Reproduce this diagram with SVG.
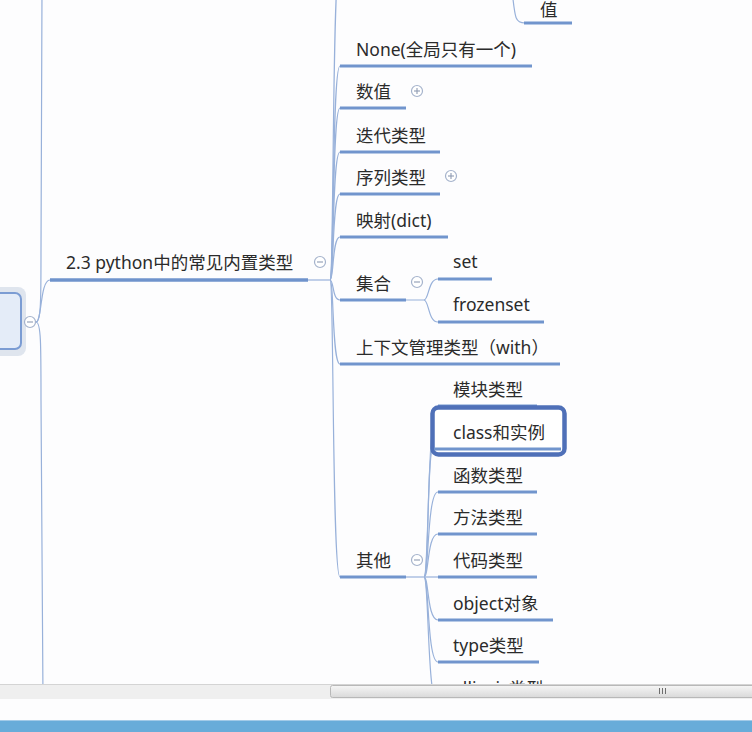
<svg xmlns="http://www.w3.org/2000/svg" width="752" height="732" viewBox="0 0 752 732">
<defs>
<style>
text{font-family:"Noto Sans","Noto Sans CJK SC",sans-serif;font-size:17.5px;fill:#2b2b2b}
.ul{stroke:#7195cd;stroke-width:3;stroke-linecap:butt;fill:none}
.ul2{stroke:#6f93cc;stroke-width:3.5;fill:none}
.cn{stroke:#98b1da;stroke-width:1.2;fill:none}
.tg circle{fill:#fff;stroke:#a5b3cc;stroke-width:1.2}
.tg line{stroke:#8e9bb3;stroke-width:1.1}
</style>
<linearGradient id="thumb" x1="0" y1="0" x2="0" y2="1">
<stop offset="0" stop-color="#f6f6f6"/>
<stop offset="1" stop-color="#d9d9d9"/>
</linearGradient>
</defs>
<rect x="0" y="0" width="752" height="732" fill="#fdfdfe"/>

<g id="connectors">
<path class="cn" d="M36,322 C41,322 41,300 41,250 L42,-10"/>
<path class="cn" d="M36,322 C41,322 41,344 41,400 L43,700"/>
<path class="cn" d="M36,322 C42,322 40,280 50,280"/>
<path class="cn" d="M308,280 L330,280"/>
<path class="cn" d="M330,280 C334,280 332,-40 340,-40"/>
<path class="cn" d="M330,280 C334,280 332,66 340,66"/>
<path class="cn" d="M330,280 C334,280 332,108 340,108"/>
<path class="cn" d="M330,280 C334,280 332,152 340,152"/>
<path class="cn" d="M330,280 C334,280 332,194 340,194"/>
<path class="cn" d="M330,280 C334,280 332,237 340,237"/>
<path class="cn" d="M330,280 C334,280 332,300 340,300"/>
<path class="cn" d="M330,280 C334,280 332,364 340,364"/>
<path class="cn" d="M330,280 C334,280 332,577 340,577"/>
<path class="cn" d="M406,300 L424,300 C429,300 428,279 438,279"/>
<path class="cn" d="M424,300 C429,300 428,322 438,322"/>
<path class="cn" d="M406,577 L438,577"/>
<path class="cn" d="M424,577 C429,577 427,406 438,406"/>
<path class="cn" d="M424,577 C429,577 427,449 433,449"/>
<path class="cn" d="M424,577 C429,577 427,492 438,492"/>
<path class="cn" d="M424,577 C429,577 427,534 438,534"/>
<path class="cn" d="M424,577 C429,577 427,620 438,620"/>
<path class="cn" d="M424,577 C429,577 427,662 438,662"/>
<path class="cn" d="M424,577 C429,577 427,705 438,705"/>
<path class="cn" d="M512,-10 C515,18 515,23 525,23"/>
</g>

<g id="root">
<rect x="-40" y="287" width="66" height="69" rx="8" fill="#dfe5ee"/>
<rect x="-30" y="293" width="51" height="56" rx="6" fill="#e4ecf8" stroke="#7b9cd3" stroke-width="2"/>
<g class="tg"><circle cx="30" cy="322" r="5.5"/><line x1="27" y1="322" x2="33" y2="322"/></g>
</g>

<g id="n-builtin">
<text x="66" y="269">2.3 python中的常见内置类型</text>
<line class="ul2" x1="50" y1="280" x2="308" y2="280"/>
<g class="tg"><circle cx="320" cy="262" r="5.5"/><line x1="317" y1="262" x2="323" y2="262"/></g>
</g>

<g id="n-value">
<text x="540" y="16">值</text>
<line class="ul" x1="524" y1="23" x2="572" y2="23"/>
</g>

<g id="n-none">
<text x="356" y="56">None(全局只有一个)</text>
<line class="ul" x1="340" y1="66" x2="532" y2="66"/>
</g>

<g id="n-number">
<text x="356" y="98">数值</text>
<line class="ul" x1="340" y1="108" x2="406" y2="108"/>
<g class="tg"><circle cx="417" cy="91" r="5.5"/><line x1="414" y1="91" x2="420" y2="91"/><line x1="417" y1="88" x2="417" y2="94"/></g>
</g>

<g id="n-iter">
<text x="356" y="142">迭代类型</text>
<line class="ul" x1="340" y1="152" x2="440" y2="152"/>
</g>

<g id="n-seq">
<text x="356" y="184">序列类型</text>
<line class="ul" x1="340" y1="194" x2="440" y2="194"/>
<g class="tg"><circle cx="451" cy="176" r="5.5"/><line x1="448" y1="176" x2="454" y2="176"/><line x1="451" y1="173" x2="451" y2="179"/></g>
</g>

<g id="n-map">
<text x="356" y="227">映射(dict)</text>
<line class="ul" x1="340" y1="237" x2="448" y2="237"/>
</g>

<g id="n-set-group">
<text x="356" y="290">集合</text>
<line class="ul" x1="340" y1="300" x2="406" y2="300"/>
<g class="tg"><circle cx="417" cy="282" r="5.5"/><line x1="414" y1="282" x2="420" y2="282"/></g>
</g>

<g id="n-set">
<text x="453" y="268">set</text>
<line class="ul" x1="438" y1="279" x2="492" y2="279"/>
</g>

<g id="n-frozenset">
<text x="453" y="311">frozenset</text>
<line class="ul" x1="438" y1="322" x2="544" y2="322"/>
</g>

<g id="n-with">
<text x="356" y="354">上下文管理类型（with）</text>
<line class="ul" x1="340" y1="364" x2="560" y2="364"/>
</g>

<g id="n-other">
<text x="356" y="567">其他</text>
<line class="ul" x1="340" y1="577" x2="406" y2="577"/>
<g class="tg"><circle cx="417" cy="560" r="5.5"/><line x1="414" y1="560" x2="420" y2="560"/></g>
</g>

<g id="n-module">
<text x="453" y="396">模块类型</text>
<line class="ul" x1="438" y1="406" x2="537" y2="406"/>
</g>

<g id="n-class">
<rect x="432.5" y="407.5" width="132" height="47" rx="6" fill="#fff" stroke="#4f70b8" stroke-width="4.5"/>
<text x="453" y="439">class和实例</text>
<line class="ul" x1="434" y1="449" x2="561" y2="449"/>
</g>

<g id="n-func">
<text x="453" y="482">函数类型</text>
<line class="ul" x1="438" y1="492" x2="537" y2="492"/>
</g>

<g id="n-method">
<text x="453" y="524">方法类型</text>
<line class="ul" x1="438" y1="534" x2="537" y2="534"/>
</g>

<g id="n-code">
<text x="453" y="567">代码类型</text>
<line class="ul" x1="438" y1="577" x2="537" y2="577"/>
</g>

<g id="n-object">
<text x="453" y="610">object对象</text>
<line class="ul" x1="438" y1="620" x2="553" y2="620"/>
</g>

<g id="n-type">
<text x="453" y="652">type类型</text>
<line class="ul" x1="438" y1="662" x2="539" y2="662"/>
</g>

<g id="n-ellipsis">
<text x="453" y="695">ellipsis类型</text>
<line class="ul" x1="438" y1="705" x2="545" y2="705"/>
</g>

<g id="scrollbar">
<rect x="0" y="684" width="752" height="15" fill="#efefef"/>
<line x1="0" y1="684.5" x2="752" y2="684.5" stroke="#d4d4d4"/>
<rect x="330.5" y="685.5" width="430" height="12" rx="2" fill="url(#thumb)" stroke="#b8b8b8"/>
<line x1="659.5" y1="688" x2="659.5" y2="694" stroke="#6e6e6e"/>
<line x1="662.5" y1="688" x2="662.5" y2="694" stroke="#6e6e6e"/>
<line x1="665.5" y1="688" x2="665.5" y2="694" stroke="#6e6e6e"/>
<rect x="0" y="699" width="752" height="21" fill="#fdfdfe"/>
<rect x="0" y="720" width="752" height="12" fill="#68acd9"/>
<line x1="0" y1="720.5" x2="752" y2="720.5" stroke="#a3cbe8"/>
</g>
</svg>
